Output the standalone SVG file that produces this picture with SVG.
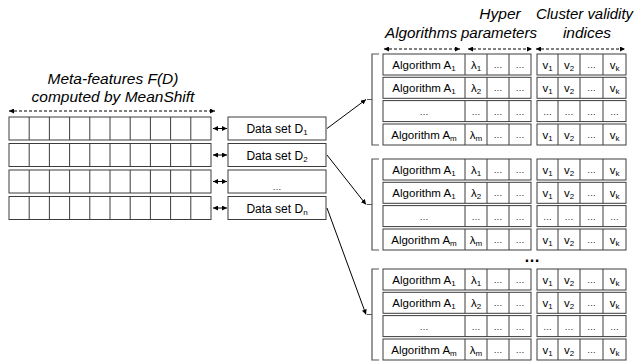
<svg xmlns="http://www.w3.org/2000/svg" width="636" height="364" viewBox="0 0 636 364">
<style>
text{font-family:"Liberation Sans",Arial,sans-serif;fill:#000}
.hdr{font-size:15.5px;font-style:italic;text-anchor:middle}
.ds{font-size:12px;text-anchor:middle}
.tc{font-size:11.5px;text-anchor:middle;fill:#000}
.el{font-size:9px;text-anchor:middle;fill:#222}
.cell{fill:#fff;stroke:#3c3c3c;stroke-width:1}
.div{fill:none;stroke:#3c3c3c;stroke-width:1}
.br{fill:none;stroke:#555;stroke-width:1.2}
.dash{fill:none;stroke:#000;stroke-width:1;stroke-dasharray:3,2;marker-start:url(#ah);marker-end:url(#ah)}
.dbl{fill:none;stroke:#000;stroke-width:1;marker-start:url(#ah);marker-end:url(#ah)}
.con{fill:none;stroke:#000;stroke-width:1;marker-end:url(#ah)}
</style>
<defs>
<marker id="ah" viewBox="0 0 6 6" refX="6" refY="3" markerWidth="5" markerHeight="5" markerUnits="userSpaceOnUse" orient="auto-start-reverse">
<path d="M0,0 L6,3 L0,6 z" fill="#000"/>
</marker>
</defs>
<rect width="636" height="364" fill="#fff"/>

<g id="meta-title">
<text class="hdr" x="113" y="84">Meta-features F(D)</text>
<text class="hdr" x="113" y="102">computed by MeanShift</text>
<path class="dash" d="M9,111 H215"/>
</g>

<g id="meta-rows">
<rect class="cell" x="9" y="117" width="202" height="23"/>
<path class="div" d="M29.2,117V140M49.4,117V140M69.6,117V140M89.8,117V140M110,117V140M130.2,117V140M150.4,117V140M170.6,117V140M190.8,117V140"/>
<rect class="cell" x="9" y="143.5" width="202" height="23"/>
<path class="div" d="M29.2,143.5V166.5M49.4,143.5V166.5M69.6,143.5V166.5M89.8,143.5V166.5M110,143.5V166.5M130.2,143.5V166.5M150.4,143.5V166.5M170.6,143.5V166.5M190.8,143.5V166.5"/>
<rect class="cell" x="9" y="170" width="202" height="23"/>
<path class="div" d="M29.2,170V193M49.4,170V193M69.6,170V193M89.8,170V193M110,170V193M130.2,170V193M150.4,170V193M170.6,170V193M190.8,170V193"/>
<rect class="cell" x="9" y="196.5" width="202" height="23"/>
<path class="div" d="M29.2,196.5V219.5M49.4,196.5V219.5M69.6,196.5V219.5M89.8,196.5V219.5M110,196.5V219.5M130.2,196.5V219.5M150.4,196.5V219.5M170.6,196.5V219.5M190.8,196.5V219.5"/>
</g>

<g id="dataset-1"><rect class="cell" x="228" y="117" width="98" height="23"/><text class="ds" x="277" y="133">Data set D<tspan font-size="8" dy="2">1</tspan></text></g>
<g id="dataset-2"><rect class="cell" x="228" y="143.5" width="98" height="23"/><text class="ds" x="277" y="159.5">Data set D<tspan font-size="8" dy="2">2</tspan></text></g>
<g id="dataset-dots"><rect class="cell" x="228" y="170" width="98" height="23"/><text class="el" x="277" y="190">…</text></g>
<g id="dataset-n"><rect class="cell" x="228" y="196.5" width="98" height="23"/><text class="ds" x="277" y="212.5">Data set D<tspan font-size="8" dy="2">n</tspan></text></g>

<g id="headers">
<text class="hdr" x="500" y="19">Hyper</text>
<text class="hdr" x="584.5" y="19" textLength="97" lengthAdjust="spacingAndGlyphs">Cluster validity</text>
<text class="hdr" x="421" y="38" textLength="72" lengthAdjust="spacingAndGlyphs">Algorithms</text>
<text class="hdr" x="499" y="38" textLength="76" lengthAdjust="spacingAndGlyphs">parameters</text>
<text class="hdr" x="587" y="38">indices</text>
<path class="dash" d="M384,49 H460"/>
<path class="dash" d="M468,49 H532"/>
<path class="dash" d="M536,49 H625"/>
</g>

<g id="table-1" transform="translate(0,54)">
<path class="br" d="M379,0 H372 V91 H379 M372,45.5 H367"/>
<g>
<rect class="cell" x="383" y="0" width="148" height="21"/><path class="div" d="M465,0V21M487,0V21M509,0V21"/>
<rect class="cell" x="537" y="0" width="89" height="21"/><path class="div" d="M558,0V21M580,0V21M603,0V21"/>
<text class="tc" x="424" y="15">Algorithm A<tspan font-size="8" dy="2">1</tspan></text>
<text class="tc" x="476" y="15">λ<tspan font-size="8" dy="2">1</tspan></text>
<text class="el" x="498" y="14">…</text><text class="el" x="520" y="14">…</text>
<text class="tc" x="547.5" y="15">v<tspan font-size="8" dy="2">1</tspan></text>
<text class="tc" x="569" y="15">v<tspan font-size="8" dy="2">2</tspan></text>
<text class="el" x="591.5" y="14">…</text>
<text class="tc" x="614.5" y="15">v<tspan font-size="8" dy="2">k</tspan></text>
</g>
<g transform="translate(0,23.3)">
<rect class="cell" x="383" y="0" width="148" height="21"/><path class="div" d="M465,0V21M487,0V21M509,0V21"/>
<rect class="cell" x="537" y="0" width="89" height="21"/><path class="div" d="M558,0V21M580,0V21M603,0V21"/>
<text class="tc" x="424" y="15">Algorithm A<tspan font-size="8" dy="2">1</tspan></text>
<text class="tc" x="476" y="15">λ<tspan font-size="8" dy="2">2</tspan></text>
<text class="el" x="498" y="14">…</text><text class="el" x="520" y="14">…</text>
<text class="tc" x="547.5" y="15">v<tspan font-size="8" dy="2">1</tspan></text>
<text class="tc" x="569" y="15">v<tspan font-size="8" dy="2">2</tspan></text>
<text class="el" x="591.5" y="14">…</text>
<text class="tc" x="614.5" y="15">v<tspan font-size="8" dy="2">k</tspan></text>
</g>
<g transform="translate(0,46.6)">
<rect class="cell" x="383" y="0" width="148" height="21"/><path class="div" d="M465,0V21M487,0V21M509,0V21"/>
<rect class="cell" x="537" y="0" width="89" height="21"/><path class="div" d="M558,0V21M580,0V21M603,0V21"/>
<text class="el" x="424" y="14">…</text><text class="el" x="476" y="14">…</text>
<text class="el" x="498" y="14">…</text><text class="el" x="520" y="14">…</text>
<text class="el" x="547.5" y="14">…</text><text class="el" x="569" y="14">…</text>
<text class="el" x="591.5" y="14">…</text><text class="el" x="614.5" y="14">…</text>
</g>
<g transform="translate(0,70)">
<rect class="cell" x="383" y="0" width="148" height="21"/><path class="div" d="M465,0V21M487,0V21M509,0V21"/>
<rect class="cell" x="537" y="0" width="89" height="21"/><path class="div" d="M558,0V21M580,0V21M603,0V21"/>
<text class="tc" x="424" y="15">Algorithm A<tspan font-size="8" dy="2">m</tspan></text>
<text class="tc" x="476" y="15">λ<tspan font-size="8" dy="2">m</tspan></text>
<text class="el" x="498" y="14">…</text><text class="el" x="520" y="14">…</text>
<text class="tc" x="547.5" y="15">v<tspan font-size="8" dy="2">1</tspan></text>
<text class="tc" x="569" y="15">v<tspan font-size="8" dy="2">2</tspan></text>
<text class="el" x="591.5" y="14">…</text>
<text class="tc" x="614.5" y="15">v<tspan font-size="8" dy="2">k</tspan></text>
</g>
</g>

<g id="table-2" transform="translate(0,159)">
<path class="br" d="M379,0 H372 V91 H379 M372,45.5 H367"/>
<g>
<rect class="cell" x="383" y="0" width="148" height="21"/><path class="div" d="M465,0V21M487,0V21M509,0V21"/>
<rect class="cell" x="537" y="0" width="89" height="21"/><path class="div" d="M558,0V21M580,0V21M603,0V21"/>
<text class="tc" x="424" y="15">Algorithm A<tspan font-size="8" dy="2">1</tspan></text>
<text class="tc" x="476" y="15">λ<tspan font-size="8" dy="2">1</tspan></text>
<text class="el" x="498" y="14">…</text><text class="el" x="520" y="14">…</text>
<text class="tc" x="547.5" y="15">v<tspan font-size="8" dy="2">1</tspan></text>
<text class="tc" x="569" y="15">v<tspan font-size="8" dy="2">2</tspan></text>
<text class="el" x="591.5" y="14">…</text>
<text class="tc" x="614.5" y="15">v<tspan font-size="8" dy="2">k</tspan></text>
</g>
<g transform="translate(0,23.3)">
<rect class="cell" x="383" y="0" width="148" height="21"/><path class="div" d="M465,0V21M487,0V21M509,0V21"/>
<rect class="cell" x="537" y="0" width="89" height="21"/><path class="div" d="M558,0V21M580,0V21M603,0V21"/>
<text class="tc" x="424" y="15">Algorithm A<tspan font-size="8" dy="2">1</tspan></text>
<text class="tc" x="476" y="15">λ<tspan font-size="8" dy="2">2</tspan></text>
<text class="el" x="498" y="14">…</text><text class="el" x="520" y="14">…</text>
<text class="tc" x="547.5" y="15">v<tspan font-size="8" dy="2">1</tspan></text>
<text class="tc" x="569" y="15">v<tspan font-size="8" dy="2">2</tspan></text>
<text class="el" x="591.5" y="14">…</text>
<text class="tc" x="614.5" y="15">v<tspan font-size="8" dy="2">k</tspan></text>
</g>
<g transform="translate(0,46.6)">
<rect class="cell" x="383" y="0" width="148" height="21"/><path class="div" d="M465,0V21M487,0V21M509,0V21"/>
<rect class="cell" x="537" y="0" width="89" height="21"/><path class="div" d="M558,0V21M580,0V21M603,0V21"/>
<text class="el" x="424" y="14">…</text><text class="el" x="476" y="14">…</text>
<text class="el" x="498" y="14">…</text><text class="el" x="520" y="14">…</text>
<text class="el" x="547.5" y="14">…</text><text class="el" x="569" y="14">…</text>
<text class="el" x="591.5" y="14">…</text><text class="el" x="614.5" y="14">…</text>
</g>
<g transform="translate(0,70)">
<rect class="cell" x="383" y="0" width="148" height="21"/><path class="div" d="M465,0V21M487,0V21M509,0V21"/>
<rect class="cell" x="537" y="0" width="89" height="21"/><path class="div" d="M558,0V21M580,0V21M603,0V21"/>
<text class="tc" x="424" y="15">Algorithm A<tspan font-size="8" dy="2">m</tspan></text>
<text class="tc" x="476" y="15">λ<tspan font-size="8" dy="2">m</tspan></text>
<text class="el" x="498" y="14">…</text><text class="el" x="520" y="14">…</text>
<text class="tc" x="547.5" y="15">v<tspan font-size="8" dy="2">1</tspan></text>
<text class="tc" x="569" y="15">v<tspan font-size="8" dy="2">2</tspan></text>
<text class="el" x="591.5" y="14">…</text>
<text class="tc" x="614.5" y="15">v<tspan font-size="8" dy="2">k</tspan></text>
</g>
</g>

<g id="gap-dots"><text x="532" y="262" font-size="16" font-weight="bold" text-anchor="middle">…</text></g>

<g id="table-3" transform="translate(0,269)">
<path class="br" d="M379,0 H372 V91 H379 M372,45.5 H367"/>
<g>
<rect class="cell" x="383" y="0" width="148" height="21"/><path class="div" d="M465,0V21M487,0V21M509,0V21"/>
<rect class="cell" x="537" y="0" width="89" height="21"/><path class="div" d="M558,0V21M580,0V21M603,0V21"/>
<text class="tc" x="424" y="15">Algorithm A<tspan font-size="8" dy="2">1</tspan></text>
<text class="tc" x="476" y="15">λ<tspan font-size="8" dy="2">1</tspan></text>
<text class="el" x="498" y="14">…</text><text class="el" x="520" y="14">…</text>
<text class="tc" x="547.5" y="15">v<tspan font-size="8" dy="2">1</tspan></text>
<text class="tc" x="569" y="15">v<tspan font-size="8" dy="2">2</tspan></text>
<text class="el" x="591.5" y="14">…</text>
<text class="tc" x="614.5" y="15">v<tspan font-size="8" dy="2">k</tspan></text>
</g>
<g transform="translate(0,23.3)">
<rect class="cell" x="383" y="0" width="148" height="21"/><path class="div" d="M465,0V21M487,0V21M509,0V21"/>
<rect class="cell" x="537" y="0" width="89" height="21"/><path class="div" d="M558,0V21M580,0V21M603,0V21"/>
<text class="tc" x="424" y="15">Algorithm A<tspan font-size="8" dy="2">1</tspan></text>
<text class="tc" x="476" y="15">λ<tspan font-size="8" dy="2">2</tspan></text>
<text class="el" x="498" y="14">…</text><text class="el" x="520" y="14">…</text>
<text class="tc" x="547.5" y="15">v<tspan font-size="8" dy="2">1</tspan></text>
<text class="tc" x="569" y="15">v<tspan font-size="8" dy="2">2</tspan></text>
<text class="el" x="591.5" y="14">…</text>
<text class="tc" x="614.5" y="15">v<tspan font-size="8" dy="2">k</tspan></text>
</g>
<g transform="translate(0,46.6)">
<rect class="cell" x="383" y="0" width="148" height="21"/><path class="div" d="M465,0V21M487,0V21M509,0V21"/>
<rect class="cell" x="537" y="0" width="89" height="21"/><path class="div" d="M558,0V21M580,0V21M603,0V21"/>
<text class="el" x="424" y="14">…</text><text class="el" x="476" y="14">…</text>
<text class="el" x="498" y="14">…</text><text class="el" x="520" y="14">…</text>
<text class="el" x="547.5" y="14">…</text><text class="el" x="569" y="14">…</text>
<text class="el" x="591.5" y="14">…</text><text class="el" x="614.5" y="14">…</text>
</g>
<g transform="translate(0,70)">
<rect class="cell" x="383" y="0" width="148" height="21"/><path class="div" d="M465,0V21M487,0V21M509,0V21"/>
<rect class="cell" x="537" y="0" width="89" height="21"/><path class="div" d="M558,0V21M580,0V21M603,0V21"/>
<text class="tc" x="424" y="15">Algorithm A<tspan font-size="8" dy="2">m</tspan></text>
<text class="tc" x="476" y="15">λ<tspan font-size="8" dy="2">m</tspan></text>
<text class="el" x="498" y="14">…</text><text class="el" x="520" y="14">…</text>
<text class="tc" x="547.5" y="15">v<tspan font-size="8" dy="2">1</tspan></text>
<text class="tc" x="569" y="15">v<tspan font-size="8" dy="2">2</tspan></text>
<text class="el" x="591.5" y="14">…</text>
<text class="tc" x="614.5" y="15">v<tspan font-size="8" dy="2">k</tspan></text>
</g>
</g>

<g id="connectors">
<path class="dbl" d="M213,128.5 H227"/>
<path class="dbl" d="M213,155 H227"/>
<path class="dbl" d="M213,181.5 H227"/>
<path class="dbl" d="M213,208 H227"/>
<path class="con" d="M327,128.5 L366,99.5"/>
<path class="con" d="M327,155 L366,204.5"/>
<path class="con" d="M327,208 L366,314.5"/>
</g>
</svg>
